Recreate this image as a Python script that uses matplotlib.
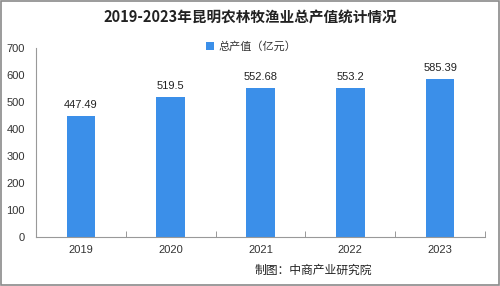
import matplotlib.pyplot as plt
from matplotlib.patches import Rectangle

plt.rcParams['font.family'] = ['Liberation Sans', 'Noto Sans CJK SC', 'DejaVu Sans']

years = ['2019', '2020', '2021', '2022', '2023']
values = [447.49, 519.5, 552.68, 553.2, 585.39]
labels = ['447.49', '519.5', '552.68', '553.2', '585.39']

fig = plt.figure(figsize=(5, 2.86), dpi=100)
fig.patch.set_facecolor('white')
ax = fig.add_axes([0.072, 0.171, 0.898, 0.66])

x = list(range(len(years)))
ax.bar(x, values, width=0.32, color='#3b8fe9', label='总产值（亿元）', zorder=2)
for xi, v, t in zip(x, values, labels):
    ax.text(xi, v + 22, t, ha='center', va='bottom', fontsize=8, color='#222222')

ax.set_xlim(-0.5, 4.5)
ax.set_ylim(0, 700)
ax.set_yticks(range(0, 701, 100))
ax.set_xticks(x)
ax.set_xticklabels(years)
ax.set_xticks([i + 0.5 for i in range(-1, 5)], minor=True)
ax.tick_params(axis='x', which='major', length=0, labelsize=8, colors='#333333', pad=6)
ax.tick_params(axis='x', which='minor', direction='in', length=4, color='#888888')
ax.tick_params(axis='y', length=0, labelsize=8, colors='#333333', pad=8)
for s in ['top', 'right']:
    ax.spines[s].set_visible(False)
ax.spines['left'].set_color('#999999')
ax.spines['bottom'].set_color('#999999')
ax.spines['left'].set_linewidth(0.8)
ax.spines['bottom'].set_linewidth(0.8)

ax.legend(loc='upper center', bbox_to_anchor=(0.48, 1.09), frameon=False,
          prop={'family': ['Noto Sans CJK SC'], 'size': 8},
          handlelength=0.7, handleheight=0.7, handletextpad=0.4,
          labelcolor='#333333')

fig.text(0.5, 0.94, '2019-2023年昆明农林牧渔业总产值统计情况', ha='center', va='center',
         fontsize=10.5, fontweight='bold', color='#222222', family=['Noto Sans CJK SC'])
fig.text(0.51, 0.056, '制图：中商产业研究院', ha='left', va='center', fontsize=8.5,
         color='#222222', family=['Noto Sans CJK SC'])

fig.patches.append(Rectangle((0.002, 0.004), 0.996, 0.992, transform=fig.transFigure,
                             fill=False, edgecolor='#8a8a8a', linewidth=1.2))

fig.savefig('out.png', dpi=100)
